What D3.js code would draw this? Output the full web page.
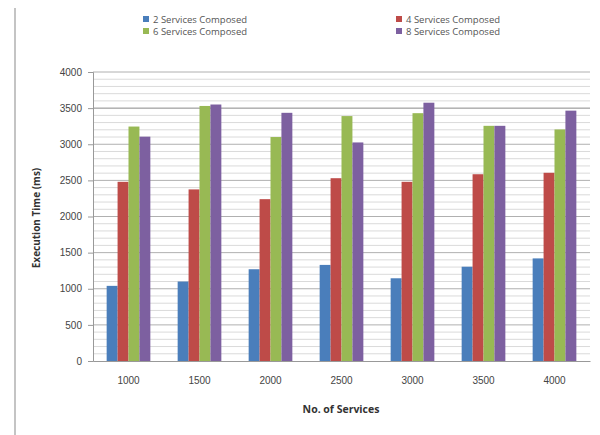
<!DOCTYPE html>
<html>
<head>
<meta charset="UTF-8">
<script src="https://d3js.org/d3.v7.min.js"></script>
<style>
  body { margin: 0; background: #fff; }
  svg { font-family: "Open Sans", "DejaVu Sans", sans-serif; }
  .tick text { fill: #444; font-size: 10px; }
</style>
</head>
<body>
<svg id="chart" width="600" height="435"></svg>
<script>
  // values
  const categories = ["1000", "1500", "2000", "2500", "3000", "3500", "4000"];
  const seriesNames = ["2 Services Composed", "4 Services Composed", "6 Services Composed", "8 Services Composed"];
  const s2 = [1040, 1100, 1270, 1330, 1145, 1305, 1420];
  const s4 = [2480, 2375, 2240, 2530, 2480, 2585, 2605];
  const s6 = [3245, 3530, 3100, 3390, 3430, 3255, 3205];
  const s8 = [3105, 3550, 3435, 3025, 3575, 3255, 3465];
  const yTicks = [0, 500, 1000, 1500, 2000, 2500, 3000, 3500, 4000];
  const colors = ["#4a7ebb", "#be4b48", "#98b954", "#7d60a0"];

  const series = [s2, s4, s6, s8];
  const svg = d3.select("#chart");
  const plotL = 93, plotR = 590, plotT = 72, plotB = 361;

  const x = d3.scaleBand().domain(categories).range([plotL, plotR]).paddingInner(0).paddingOuter(0);
  const xs = d3.scaleBand().domain(d3.range(4)).range([0, x.bandwidth()]).paddingInner(0).paddingOuter(1.25);
  const y = d3.scaleLinear().domain([0, 4000]).range([plotB, plotT]);

  // page frame on the left
  svg.append("line").attr("x1", 15).attr("x2", 15).attr("y1", 8).attr("y2", 435)
    .attr("stroke", "#c4c4c4").attr("stroke-width", 2);

  // minor and major gridlines
  svg.append("g").selectAll("line").data(d3.range(100, 4000, 100).filter(v => v % 500 !== 0))
    .join("line")
    .attr("x1", plotL).attr("x2", plotR)
    .attr("y1", d => y(d)).attr("y2", d => y(d))
    .attr("stroke", "#dadada").attr("stroke-width", 1);
  svg.append("g").selectAll("line").data(yTicks.slice(1))
    .join("line")
    .attr("x1", plotL).attr("x2", plotR)
    .attr("y1", d => y(d)).attr("y2", d => y(d))
    .attr("stroke", d => d === 3500 ? "#888" : "#b0b0b0").attr("stroke-width", 1);

  // bars
  const groups = svg.append("g").selectAll("g").data(categories).join("g")
    .attr("transform", d => `translate(${x(d)},0)`);
  groups.selectAll("rect").data((c, i) => series.map((s, k) => ({ k, v: s[i] })))
    .join("rect")
    .attr("x", d => xs(d.k))
    .attr("width", xs.bandwidth())
    .attr("y", d => y(d.v))
    .attr("height", d => plotB - y(d.v))
    .attr("fill", d => colors[d.k]);

  // axes
  const yAxis = svg.append("g").attr("transform", `translate(${plotL},0)`)
    .call(d3.axisLeft(y).tickValues(yTicks).tickFormat(d3.format("d")).tickSize(5).tickPadding(6));
  yAxis.select(".domain").attr("stroke", "#999");
  yAxis.selectAll(".tick line").attr("stroke", "#999");

  const xAxis = svg.append("g").attr("transform", `translate(0,${plotB})`)
    .call(d3.axisBottom(x).tickSize(0).tickPadding(16));
  xAxis.select(".domain").attr("stroke", "#999");

  // axis titles
  svg.append("text")
    .attr("transform", "translate(40,218) rotate(-90)")
    .attr("text-anchor", "middle")
    .attr("font-size", 10).attr("font-weight", "bold").attr("fill", "#333")
    .text("Execution Time (ms)");
  svg.append("text")
    .attr("x", 341).attr("y", 413)
    .attr("text-anchor", "middle")
    .attr("font-size", 10.5).attr("font-weight", "bold").attr("fill", "#333")
    .text("No. of Services");

  // legend
  const legendPos = [[143, 20], [396, 20], [143, 32], [396, 32]];
  const legend = svg.append("g").selectAll("g").data(seriesNames).join("g")
    .attr("transform", (d, i) => `translate(${legendPos[i][0]},${legendPos[i][1]})`);
  legend.append("rect").attr("x", 0).attr("y", -4).attr("width", 6).attr("height", 6)
    .attr("fill", (d, i) => colors[i]);
  legend.append("text").attr("x", 10).attr("y", 2.5)
    .attr("font-size", 9.5).attr("fill", "#555")
    .text(d => d);
</script>
</body>
</html>
